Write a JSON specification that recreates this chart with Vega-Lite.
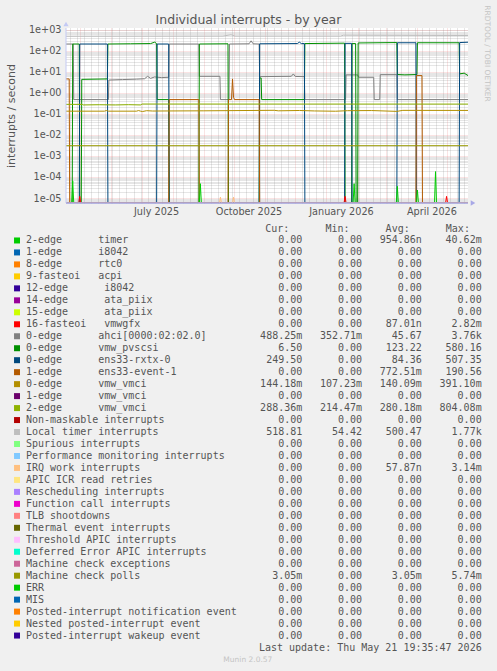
{
 "$schema": "https://vega.github.io/schema/vega-lite/v6.json",
 "width": 402,
 "height": 175,
 "autosize": {"type": "none"},
 "padding": {"left": 66, "top": 28, "right": 29, "bottom": 468},
 "background": "#f0f0f0",
 "title": {"text": "Individual interrupts - by year", "font": "DejaVu Sans", "fontSize": 12.5, "fontWeight": "normal", "color": "#555555", "anchor": "middle", "frame": "group", "dx": -18.5, "offset": 0, "dy": 22},
 "config": {
  "view": {"fill": "#ffffff", "stroke": null},
  "font": "DejaVu Sans",
  "axis": {"labelFont": "DejaVu Sans", "labelFontSize": 9.7, "labelColor": "#555555", "titleFont": "DejaVu Sans", "titleFontWeight": "normal", "titleColor": "#555555"}
 },
 "datasets": {
  "series": [
   {"s":"ahci","t":"2025-04-16T19:35","v":205},{"s":"ahci","t":"2025-04-24T00:00","v":205},{"s":"ahci","t":"2025-04-24T12:00","v":0.47},{"s":"ahci","t":"2025-05-29T00:00","v":0.47},{"s":"ahci","t":"2025-05-29T12:00","v":4.0},{"s":"ahci","t":"2025-06-12T00:00","v":4.2},{"s":"ahci","t":"2025-06-26T00:00","v":4.4},{"s":"ahci","t":"2025-07-04T00:00","v":4.6},{"s":"ahci","t":"2025-07-07T00:00","v":6.0},{"s":"ahci","t":"2025-07-10T00:00","v":4.8},{"s":"ahci","t":"2025-07-14T00:00","v":5.6},{"s":"ahci","t":"2025-07-21T00:00","v":5.2},{"s":"ahci","t":"2025-07-28T00:00","v":5.4},{"s":"ahci","t":"2025-07-28T12:00","v":205},{"s":"ahci","t":"2025-08-27T00:00","v":205},{"s":"ahci","t":"2025-08-27T12:00","v":6.0},{"s":"ahci","t":"2025-09-17T00:00","v":6.0},{"s":"ahci","t":"2025-09-17T12:00","v":0.47},{"s":"ahci","t":"2025-09-26T00:00","v":0.47},{"s":"ahci","t":"2025-09-26T12:00","v":205},{"s":"ahci","t":"2025-10-16T00:00","v":210},{"s":"ahci","t":"2025-10-18T00:00","v":290},{"s":"ahci","t":"2025-10-20T00:00","v":210},{"s":"ahci","t":"2025-10-26T00:00","v":205},{"s":"ahci","t":"2025-10-26T12:00","v":5.8},{"s":"ahci","t":"2025-11-27T00:00","v":6.0},{"s":"ahci","t":"2025-11-29T00:00","v":7.8},{"s":"ahci","t":"2025-12-01T00:00","v":5.9},{"s":"ahci","t":"2025-12-10T00:00","v":5.8},{"s":"ahci","t":"2025-12-10T12:00","v":0.47},{"s":"ahci","t":"2026-01-20T00:00","v":0.47},{"s":"ahci","t":"2026-01-20T12:00","v":7.0},{"s":"ahci","t":"2026-02-01T00:00","v":7.0},{"s":"ahci","t":"2026-02-02T00:00","v":5.4},{"s":"ahci","t":"2026-02-17T00:00","v":5.4},{"s":"ahci","t":"2026-02-17T12:00","v":0.47},{"s":"ahci","t":"2026-02-23T00:00","v":0.47},{"s":"ahci","t":"2026-02-23T12:00","v":7.2},{"s":"ahci","t":"2026-03-12T00:00","v":7.2},{"s":"ahci","t":"2026-03-12T12:00","v":0.47},{"s":"ahci","t":"2026-05-21T19:35","v":0.47},
   {"s":"pvscsi","t":"2025-04-16T19:35","v":0},{"s":"pvscsi","t":"2025-04-23T00:00","v":0},{"s":"pvscsi","t":"2025-04-23T12:00","v":205},{"s":"pvscsi","t":"2025-04-30T00:00","v":205},{"s":"pvscsi","t":"2025-04-30T12:00","v":0},{"s":"pvscsi","t":"2025-05-02T00:00","v":0},{"s":"pvscsi","t":"2025-05-02T12:00","v":4.3},{"s":"pvscsi","t":"2025-05-28T00:00","v":4.5},{"s":"pvscsi","t":"2025-05-28T12:00","v":205},{"s":"pvscsi","t":"2025-06-20T00:00","v":210},{"s":"pvscsi","t":"2025-07-10T00:00","v":215},{"s":"pvscsi","t":"2025-07-14T00:00","v":250},{"s":"pvscsi","t":"2025-07-16T00:00","v":215},{"s":"pvscsi","t":"2025-07-16T12:00","v":0.47},{"s":"pvscsi","t":"2025-07-28T00:00","v":0.47},{"s":"pvscsi","t":"2025-07-28T12:00","v":0},{"s":"pvscsi","t":"2025-08-27T00:00","v":0},{"s":"pvscsi","t":"2025-08-27T12:00","v":205},{"s":"pvscsi","t":"2025-09-25T00:00","v":210},{"s":"pvscsi","t":"2025-09-25T12:00","v":0},{"s":"pvscsi","t":"2025-10-26T00:00","v":0},{"s":"pvscsi","t":"2025-10-26T12:00","v":5.0},{"s":"pvscsi","t":"2025-10-28T00:00","v":5.0},{"s":"pvscsi","t":"2025-10-28T12:00","v":0.47},{"s":"pvscsi","t":"2025-12-10T00:00","v":0.47},{"s":"pvscsi","t":"2025-12-10T12:00","v":215},{"s":"pvscsi","t":"2026-01-19T00:00","v":225},{"s":"pvscsi","t":"2026-01-19T12:00","v":0},{"s":"pvscsi","t":"2026-01-26T00:00","v":0},{"s":"pvscsi","t":"2026-01-26T12:00","v":215},{"s":"pvscsi","t":"2026-01-30T00:00","v":215},{"s":"pvscsi","t":"2026-01-30T12:00","v":0},{"s":"pvscsi","t":"2026-02-01T00:00","v":0},{"s":"pvscsi","t":"2026-02-01T12:00","v":230},{"s":"pvscsi","t":"2026-03-12T00:00","v":240},{"s":"pvscsi","t":"2026-03-12T12:00","v":7.3},{"s":"pvscsi","t":"2026-03-20T00:00","v":7.0},{"s":"pvscsi","t":"2026-04-01T00:00","v":7.3},{"s":"pvscsi","t":"2026-04-01T12:00","v":235},{"s":"pvscsi","t":"2026-05-13T00:00","v":235},{"s":"pvscsi","t":"2026-05-13T12:00","v":7.8},{"s":"pvscsi","t":"2026-05-18T00:00","v":8.5},{"s":"pvscsi","t":"2026-05-21T19:35","v":6.5},
   {"s":"rxtx","t":"2025-04-16T19:35","v":0},{"s":"rxtx","t":"2025-04-30T00:00","v":0},{"s":"rxtx","t":"2025-04-30T12:00","v":205},{"s":"rxtx","t":"2025-05-28T00:00","v":205},{"s":"rxtx","t":"2025-05-28T12:00","v":0},{"s":"rxtx","t":"2025-07-16T00:00","v":0},{"s":"rxtx","t":"2025-07-16T12:00","v":205},{"s":"rxtx","t":"2025-07-28T00:00","v":205},{"s":"rxtx","t":"2025-07-28T12:00","v":0},{"s":"rxtx","t":"2025-10-26T00:00","v":0},{"s":"rxtx","t":"2025-10-26T12:00","v":210},{"s":"rxtx","t":"2025-12-03T00:00","v":215},{"s":"rxtx","t":"2025-12-05T00:00","v":250},{"s":"rxtx","t":"2025-12-07T00:00","v":215},{"s":"rxtx","t":"2025-12-10T00:00","v":215},{"s":"rxtx","t":"2025-12-10T12:00","v":0},{"s":"rxtx","t":"2026-01-19T00:00","v":0},{"s":"rxtx","t":"2026-01-19T12:00","v":220},{"s":"rxtx","t":"2026-01-26T00:00","v":220},{"s":"rxtx","t":"2026-01-26T12:00","v":0},{"s":"rxtx","t":"2026-03-12T00:00","v":0},{"s":"rxtx","t":"2026-03-12T12:00","v":235},{"s":"rxtx","t":"2026-03-31T00:00","v":235},{"s":"rxtx","t":"2026-03-31T12:00","v":0},{"s":"rxtx","t":"2026-05-13T00:00","v":0},{"s":"rxtx","t":"2026-05-13T12:00","v":240},{"s":"rxtx","t":"2026-05-21T19:35","v":249.5},
   {"s":"event1","t":"2025-04-16T19:35","v":4.5},{"s":"event1","t":"2025-04-20T00:00","v":4.5},{"s":"event1","t":"2025-04-20T12:00","v":0},{"s":"event1","t":"2025-07-28T00:00","v":0},{"s":"event1","t":"2025-07-28T12:00","v":0.47},{"s":"event1","t":"2025-08-27T00:00","v":0.47},{"s":"event1","t":"2025-08-27T12:00","v":0},{"s":"event1","t":"2025-09-25T00:00","v":0},{"s":"event1","t":"2025-09-25T12:00","v":0.47},{"s":"event1","t":"2025-09-28T12:00","v":0.47},{"s":"event1","t":"2025-09-29T12:00","v":4.5},{"s":"event1","t":"2025-09-30T12:00","v":0.6},{"s":"event1","t":"2025-10-01T12:00","v":0.47},{"s":"event1","t":"2025-10-26T00:00","v":0.47},{"s":"event1","t":"2025-10-26T12:00","v":0},{"s":"event1","t":"2026-03-31T00:00","v":0},{"s":"event1","t":"2026-03-31T12:00","v":6.5},{"s":"event1","t":"2026-04-06T00:00","v":6.5},{"s":"event1","t":"2026-04-06T12:00","v":0},{"s":"event1","t":"2026-05-21T19:35","v":0},
   {"s":"vmci0","t":"2025-04-16T19:35","v":0.133},{"s":"vmci0","t":"2025-05-25T00:00","v":0.133},{"s":"vmci0","t":"2025-05-27T00:00","v":0.142},{"s":"vmci0","t":"2025-05-29T00:00","v":0.133},{"s":"vmci0","t":"2025-06-26T00:00","v":0.133},{"s":"vmci0","t":"2025-06-28T00:00","v":0.142},{"s":"vmci0","t":"2025-06-30T00:00","v":0.133},{"s":"vmci0","t":"2025-07-02T00:00","v":0.128},{"s":"vmci0","t":"2025-07-06T00:00","v":0.14},{"s":"vmci0","t":"2025-07-12T00:00","v":0.135},{"s":"vmci0","t":"2025-09-01T00:00","v":0.138},{"s":"vmci0","t":"2025-11-10T00:00","v":0.146},{"s":"vmci0","t":"2025-11-14T00:00","v":0.138},{"s":"vmci0","t":"2025-12-05T00:00","v":0.143},{"s":"vmci0","t":"2025-12-20T00:00","v":0.136},{"s":"vmci0","t":"2026-01-10T00:00","v":0.132},{"s":"vmci0","t":"2026-01-22T00:00","v":0.14},{"s":"vmci0","t":"2026-02-15T00:00","v":0.142},{"s":"vmci0","t":"2026-03-12T00:00","v":0.13},{"s":"vmci0","t":"2026-03-18T00:00","v":0.145},{"s":"vmci0","t":"2026-05-21T19:35","v":0.144},
   {"s":"vmci2","t":"2025-04-16T19:35","v":0.28},{"s":"vmci2","t":"2025-05-03T00:00","v":0.28},{"s":"vmci2","t":"2025-05-04T00:00","v":0.262},{"s":"vmci2","t":"2025-05-20T00:00","v":0.268},{"s":"vmci2","t":"2025-06-05T00:00","v":0.262},{"s":"vmci2","t":"2025-06-18T00:00","v":0.27},{"s":"vmci2","t":"2025-06-30T00:00","v":0.262},{"s":"vmci2","t":"2025-07-01T12:00","v":0.29},{"s":"vmci2","t":"2026-05-21T19:35","v":0.288},
   {"s":"loc","t":"2025-04-16T19:35","v":480},{"s":"loc","t":"2025-09-20T00:00","v":490},{"s":"loc","t":"2025-09-28T00:00","v":560},{"s":"loc","t":"2025-10-02T00:00","v":490},{"s":"loc","t":"2026-01-15T00:00","v":490},{"s":"loc","t":"2026-01-18T00:00","v":535},{"s":"loc","t":"2026-05-21T19:35","v":519},
   {"s":"mcp","t":"2025-04-16T19:35","v":0.00305},{"s":"mcp","t":"2026-05-21T19:35","v":0.00305},
   {"s":"timer","t":"2025-04-16T19:35","v":0},{"s":"timer","t":"2025-04-22T12:00","v":0},{"s":"timer","t":"2025-04-23T12:00","v":0.000065},{"s":"timer","t":"2025-04-24T12:00","v":0},{"s":"timer","t":"2025-08-27T12:00","v":0},{"s":"timer","t":"2025-08-28T12:00","v":0.000048},{"s":"timer","t":"2025-08-29T12:00","v":0},{"s":"timer","t":"2026-01-27T12:00","v":0},{"s":"timer","t":"2026-01-28T12:00","v":0.000048},{"s":"timer","t":"2026-01-29T12:00","v":0},{"s":"timer","t":"2026-03-11T12:00","v":0},{"s":"timer","t":"2026-03-12T12:00","v":0.000036},{"s":"timer","t":"2026-03-13T12:00","v":0},{"s":"timer","t":"2026-03-31T12:00","v":0},{"s":"timer","t":"2026-04-01T12:00","v":0.000024},{"s":"timer","t":"2026-04-02T12:00","v":0},{"s":"timer","t":"2026-04-18T12:00","v":0},{"s":"timer","t":"2026-04-19T12:00","v":0.00018},{"s":"timer","t":"2026-04-20T12:00","v":0},{"s":"timer","t":"2026-05-21T19:35","v":0},
   {"s":"vmwgfx","t":"2025-04-16T19:35","v":0},{"s":"vmwgfx","t":"2025-04-29T12:00","v":0},{"s":"vmwgfx","t":"2025-04-30T12:00","v":0.000012},{"s":"vmwgfx","t":"2025-05-01T12:00","v":0},{"s":"vmwgfx","t":"2026-01-18T12:00","v":0},{"s":"vmwgfx","t":"2026-01-19T12:00","v":0.000012},{"s":"vmwgfx","t":"2026-01-20T12:00","v":0},{"s":"vmwgfx","t":"2026-04-29T12:00","v":0},{"s":"vmwgfx","t":"2026-04-30T12:00","v":0.000012},{"s":"vmwgfx","t":"2026-05-01T12:00","v":0},{"s":"vmwgfx","t":"2026-05-21T19:35","v":0},
   {"s":"iwi","t":"2025-04-16T19:35","v":0},{"s":"iwi","t":"2025-09-16T12:00","v":0},{"s":"iwi","t":"2025-09-17T12:00","v":0.000011},{"s":"iwi","t":"2025-09-18T12:00","v":0},{"s":"iwi","t":"2025-09-29T12:00","v":0},{"s":"iwi","t":"2025-09-30T12:00","v":0.000011},{"s":"iwi","t":"2025-10-01T12:00","v":0},{"s":"iwi","t":"2026-05-21T19:35","v":0}
  ],
  "legend": [
   {"s":"timer","name":"2-edge\u00a0\u00a0\u00a0\u00a0\u00a0\u00a0timer","cur":"0.00\u00a0","min":"0.00\u00a0","avg":"954.86n","max":"40.62m"},
   {"s":"i8042a","name":"1-edge\u00a0\u00a0\u00a0\u00a0\u00a0\u00a0i8042","cur":"0.00\u00a0","min":"0.00\u00a0","avg":"0.00\u00a0","max":"0.00\u00a0"},
   {"s":"rtc0","name":"8-edge\u00a0\u00a0\u00a0\u00a0\u00a0\u00a0rtc0","cur":"0.00\u00a0","min":"0.00\u00a0","avg":"0.00\u00a0","max":"0.00\u00a0"},
   {"s":"acpi","name":"9-fasteoi\u00a0\u00a0\u00a0acpi","cur":"0.00\u00a0","min":"0.00\u00a0","avg":"0.00\u00a0","max":"0.00\u00a0"},
   {"s":"i8042b","name":"12-edge\u00a0\u00a0\u00a0\u00a0\u00a0\u00a0i8042","cur":"0.00\u00a0","min":"0.00\u00a0","avg":"0.00\u00a0","max":"0.00\u00a0"},
   {"s":"ata14","name":"14-edge\u00a0\u00a0\u00a0\u00a0\u00a0\u00a0ata_piix","cur":"0.00\u00a0","min":"0.00\u00a0","avg":"0.00\u00a0","max":"0.00\u00a0"},
   {"s":"ata15","name":"15-edge\u00a0\u00a0\u00a0\u00a0\u00a0\u00a0ata_piix","cur":"0.00\u00a0","min":"0.00\u00a0","avg":"0.00\u00a0","max":"0.00\u00a0"},
   {"s":"vmwgfx","name":"16-fasteoi\u00a0\u00a0\u00a0vmwgfx","cur":"0.00\u00a0","min":"0.00\u00a0","avg":"87.01n","max":"2.82m"},
   {"s":"ahci","name":"0-edge\u00a0\u00a0\u00a0\u00a0\u00a0\u00a0ahci[0000:02:02.0]","cur":"488.25m","min":"352.71m","avg":"45.67\u00a0","max":"3.76k"},
   {"s":"pvscsi","name":"0-edge\u00a0\u00a0\u00a0\u00a0\u00a0\u00a0vmw_pvscsi","cur":"6.50\u00a0","min":"0.00\u00a0","avg":"123.22\u00a0","max":"580.16\u00a0"},
   {"s":"rxtx","name":"0-edge\u00a0\u00a0\u00a0\u00a0\u00a0\u00a0ens33-rxtx-0","cur":"249.50\u00a0","min":"0.00\u00a0","avg":"84.36\u00a0","max":"507.35\u00a0"},
   {"s":"event1","name":"1-edge\u00a0\u00a0\u00a0\u00a0\u00a0\u00a0ens33-event-1","cur":"0.00\u00a0","min":"0.00\u00a0","avg":"772.51m","max":"190.56\u00a0"},
   {"s":"vmci0","name":"0-edge\u00a0\u00a0\u00a0\u00a0\u00a0\u00a0vmw_vmci","cur":"144.18m","min":"107.23m","avg":"140.09m","max":"391.10m"},
   {"s":"vmci1","name":"1-edge\u00a0\u00a0\u00a0\u00a0\u00a0\u00a0vmw_vmci","cur":"0.00\u00a0","min":"0.00\u00a0","avg":"0.00\u00a0","max":"0.00\u00a0"},
   {"s":"vmci2","name":"2-edge\u00a0\u00a0\u00a0\u00a0\u00a0\u00a0vmw_vmci","cur":"288.36m","min":"214.47m","avg":"280.18m","max":"804.08m"},
   {"s":"nmi","name":"Non-maskable interrupts","cur":"0.00\u00a0","min":"0.00\u00a0","avg":"0.00\u00a0","max":"0.00\u00a0"},
   {"s":"loc","name":"Local timer interrupts","cur":"518.81\u00a0","min":"54.42\u00a0","avg":"500.47\u00a0","max":"1.77k"},
   {"s":"spu","name":"Spurious interrupts","cur":"0.00\u00a0","min":"0.00\u00a0","avg":"0.00\u00a0","max":"0.00\u00a0"},
   {"s":"pmi","name":"Performance monitoring interrupts","cur":"0.00\u00a0","min":"0.00\u00a0","avg":"0.00\u00a0","max":"0.00\u00a0"},
   {"s":"iwi","name":"IRQ work interrupts","cur":"0.00\u00a0","min":"0.00\u00a0","avg":"57.87n","max":"3.14m"},
   {"s":"rtr","name":"APIC ICR read retries","cur":"0.00\u00a0","min":"0.00\u00a0","avg":"0.00\u00a0","max":"0.00\u00a0"},
   {"s":"res","name":"Rescheduling interrupts","cur":"0.00\u00a0","min":"0.00\u00a0","avg":"0.00\u00a0","max":"0.00\u00a0"},
   {"s":"cal","name":"Function call interrupts","cur":"0.00\u00a0","min":"0.00\u00a0","avg":"0.00\u00a0","max":"0.00\u00a0"},
   {"s":"tlb","name":"TLB shootdowns","cur":"0.00\u00a0","min":"0.00\u00a0","avg":"0.00\u00a0","max":"0.00\u00a0"},
   {"s":"trm","name":"Thermal event interrupts","cur":"0.00\u00a0","min":"0.00\u00a0","avg":"0.00\u00a0","max":"0.00\u00a0"},
   {"s":"thr","name":"Threshold APIC interrupts","cur":"0.00\u00a0","min":"0.00\u00a0","avg":"0.00\u00a0","max":"0.00\u00a0"},
   {"s":"dfr","name":"Deferred Error APIC interrupts","cur":"0.00\u00a0","min":"0.00\u00a0","avg":"0.00\u00a0","max":"0.00\u00a0"},
   {"s":"mce","name":"Machine check exceptions","cur":"0.00\u00a0","min":"0.00\u00a0","avg":"0.00\u00a0","max":"0.00\u00a0"},
   {"s":"mcp","name":"Machine check polls","cur":"3.05m","min":"0.00\u00a0","avg":"3.05m","max":"5.74m"},
   {"s":"err","name":"ERR","cur":"0.00\u00a0","min":"0.00\u00a0","avg":"0.00\u00a0","max":"0.00\u00a0"},
   {"s":"mis","name":"MIS","cur":"0.00\u00a0","min":"0.00\u00a0","avg":"0.00\u00a0","max":"0.00\u00a0"},
   {"s":"pin","name":"Posted-interrupt notification event","cur":"0.00\u00a0","min":"0.00\u00a0","avg":"0.00\u00a0","max":"0.00\u00a0"},
   {"s":"npi","name":"Nested posted-interrupt event","cur":"0.00\u00a0","min":"0.00\u00a0","avg":"0.00\u00a0","max":"0.00\u00a0"},
   {"s":"piw","name":"Posted-interrupt wakeup event","cur":"0.00\u00a0","min":"0.00\u00a0","avg":"0.00\u00a0","max":"0.00\u00a0"}
  ]
 },
 "layer": [
  {
   "data": {"name": "series"},
   "layer": [
    {
     "mark": {"type": "line", "strokeWidth": 1, "clip": true, "invalid": "show"},
     "encoding": {
      "x": {"field": "t", "type": "temporal",
       "scale": {"domain": [{"year":2025,"month":4,"date":16,"hours":19,"minutes":35},{"year":2026,"month":5,"date":21,"hours":19,"minutes":35}]},
       "axis": {
        "orient": "bottom", "title": null, "ticks": false, "tickSize": 0, "domain": false, "grid": false, "labelAngle": 0, "labelOverlap": false, "labelFlush": false, "labelPadding": 3, "labelOffset": 14.5,
        "format": "%B %Y",
        "values": [{"year":2025,"month":7,"date":1},{"year":2025,"month":10,"date":1},{"year":2026,"month":1,"date":1},{"year":2026,"month":4,"date":1}]
       }
      },
      "y": {"field": "v", "type": "quantitative",
       "scale": {"type": "log", "domain": [0.0000058, 1180], "clamp": true},
       "axis": {
        "orient": "left", "ticks": false, "tickSize": 0, "domain": false, "labelPadding": 5, "labelOverlap": false, "labelFlush": false,
        "title": "interrupts / second", "titleFontSize": 11, "titleAngle": -90, "titleX": -50, "titleY": 87.5, "titleAlign": "center", "titleBaseline": "bottom",
        "labelExpr": "abs(log(datum.value)/LN10 - round(log(datum.value)/LN10)) < 0.001 ? '1e' + (round(log(datum.value)/LN10) < 0 ? '-' : '+') + (abs(round(log(datum.value)/LN10)) < 10 ? '0' : '') + abs(round(log(datum.value)/LN10)) : ''",
        "grid": true, "gridDash": [1, 1],
        "gridColor": {"condition": {"test": "abs(log(datum.value)/LN10 - round(log(datum.value)/LN10)) < 0.001", "value": "#e06060"}, "value": "#8f8f8f"},
        "gridOpacity": {"condition": {"test": "abs(log(datum.value)/LN10 - round(log(datum.value)/LN10)) < 0.001", "value": 0.35}, "value": 0.45},
        "values": [0.000006,0.000007,0.000008,0.000009,
         0.00001,0.00002,0.00003,0.00004,0.00005,0.00006,0.00007,0.00008,0.00009,
         0.0001,0.0002,0.0003,0.0004,0.0005,0.0006,0.0007,0.0008,0.0009,
         0.001,0.002,0.003,0.004,0.005,0.006,0.007,0.008,0.009,
         0.01,0.02,0.03,0.04,0.05,0.06,0.07,0.08,0.09,
         0.1,0.2,0.3,0.4,0.5,0.6,0.7,0.8,0.9,
         1,2,3,4,5,6,7,8,9,
         10,20,30,40,50,60,70,80,90,
         100,200,300,400,500,600,700,800,900,1000]
       }
      },
      "color": {"field": "s", "type": "nominal", "legend": null,
       "scale": {
        "domain": ["timer","i8042a","rtc0","acpi","i8042b","ata14","ata15","vmwgfx","ahci","pvscsi","rxtx","event1","vmci0","vmci1","vmci2","nmi","loc","spu","pmi","iwi","rtr","res","cal","tlb","trm","thr","dfr","mce","mcp","err","mis","pin","npi","piw"],
        "range": ["#00CC00","#0066B3","#FF8000","#FFCC00","#330099","#990099","#CCFF00","#FF0000","#808080","#008F00","#00487D","#B35A00","#B38F00","#6B006B","#8FB300","#B30000","#BEBEBE","#80FF80","#80C9FF","#FFC080","#FFE680","#AA80FF","#EE00CC","#FF8080","#666600","#FFBFFF","#00FFCC","#CC6699","#999900","#00CC00","#0066B3","#FF8000","#FFCC00","#330099"]
       }
      }
     }
    },
    {
     "data": {"values": [{}]},
     "mark": {"type": "rule", "color": "#a8a8e6", "strokeWidth": 1.5},
     "encoding": {"y": {"datum": 0.0000058, "type": "quantitative", "scale": {"type": "log", "domain": [0.0000058, 1180], "clamp": true}, "axis": null}}
    },
    {
     "data": {"values": [{}]},
     "mark": {"type": "rule", "color": "#c4caf4", "strokeWidth": 1},
     "encoding": {"x": {"datum": {"year":2025,"month":4,"date":16,"hours":19,"minutes":35}, "type": "temporal",
      "axis": {
        "orient": "bottom", "title": null, "labels": false, "ticks": false, "domain": false,
        "grid": true, "gridDash": [1, 1],
        "gridColor": {"condition": {"test": "date(datum.value) == 1", "value": "#e06060"}, "value": "#8f8f8f"},
        "gridOpacity": {"condition": {"test": "date(datum.value) == 1", "value": 0.35}, "value": 0.45},
        "values": [
         {"year":2025,"month":4,"date":21},{"year":2025,"month":4,"date":28},{"year":2025,"month":5,"date":1},{"year":2025,"month":5,"date":5},{"year":2025,"month":5,"date":12},{"year":2025,"month":5,"date":19},{"year":2025,"month":5,"date":26},
         {"year":2025,"month":6,"date":1},{"year":2025,"month":6,"date":2},{"year":2025,"month":6,"date":9},{"year":2025,"month":6,"date":16},{"year":2025,"month":6,"date":23},{"year":2025,"month":6,"date":30},
         {"year":2025,"month":7,"date":1},{"year":2025,"month":7,"date":7},{"year":2025,"month":7,"date":14},{"year":2025,"month":7,"date":21},{"year":2025,"month":7,"date":28},
         {"year":2025,"month":8,"date":1},{"year":2025,"month":8,"date":4},{"year":2025,"month":8,"date":11},{"year":2025,"month":8,"date":18},{"year":2025,"month":8,"date":25},
         {"year":2025,"month":9,"date":1},{"year":2025,"month":9,"date":8},{"year":2025,"month":9,"date":15},{"year":2025,"month":9,"date":22},{"year":2025,"month":9,"date":29},
         {"year":2025,"month":10,"date":1},{"year":2025,"month":10,"date":6},{"year":2025,"month":10,"date":13},{"year":2025,"month":10,"date":20},{"year":2025,"month":10,"date":27},
         {"year":2025,"month":11,"date":1},{"year":2025,"month":11,"date":3},{"year":2025,"month":11,"date":10},{"year":2025,"month":11,"date":17},{"year":2025,"month":11,"date":24},
         {"year":2025,"month":12,"date":1},{"year":2025,"month":12,"date":8},{"year":2025,"month":12,"date":15},{"year":2025,"month":12,"date":22},{"year":2025,"month":12,"date":29},
         {"year":2026,"month":1,"date":1},{"year":2026,"month":1,"date":5},{"year":2026,"month":1,"date":12},{"year":2026,"month":1,"date":19},{"year":2026,"month":1,"date":26},
         {"year":2026,"month":2,"date":1},{"year":2026,"month":2,"date":2},{"year":2026,"month":2,"date":9},{"year":2026,"month":2,"date":16},{"year":2026,"month":2,"date":23},
         {"year":2026,"month":3,"date":1},{"year":2026,"month":3,"date":2},{"year":2026,"month":3,"date":9},{"year":2026,"month":3,"date":16},{"year":2026,"month":3,"date":23},{"year":2026,"month":3,"date":30},
         {"year":2026,"month":4,"date":1},{"year":2026,"month":4,"date":6},{"year":2026,"month":4,"date":13},{"year":2026,"month":4,"date":20},{"year":2026,"month":4,"date":27},
         {"year":2026,"month":5,"date":1},{"year":2026,"month":5,"date":4},{"year":2026,"month":5,"date":11},{"year":2026,"month":5,"date":18}
        ]
      }}}
    },
    {
     "data": {"values": [{}]},
     "mark": {"type": "point", "shape": "triangle-up", "filled": true, "size": 28, "color": "#c4caf4", "opacity": 1, "yOffset": -4},
     "encoding": {
      "x": {"datum": {"year":2025,"month":4,"date":16,"hours":19,"minutes":35}, "type": "temporal", "axis": null},
      "y": {"datum": 1180, "type": "quantitative", "scale": {"type": "log", "domain": [0.0000058, 1180], "clamp": true},
       "axis": {"orient": "right", "title": "RRDTOOL / TOBI OETIKER", "labels": false, "ticks": false, "domain": false, "grid": false,
        "titleAngle": 90, "titleFont": "DejaVu Sans", "titleFontSize": 7.5, "titleFontWeight": "normal", "titleColor": "#c4c4c4",
        "titleX": 18, "titleY": 25, "titleAlign": "center", "titleBaseline": "middle"}}
     }
    },
    {
     "data": {"values": [{}]},
     "mark": {"type": "point", "shape": "triangle-right", "filled": true, "size": 28, "color": "#a8a8e6", "opacity": 1, "xOffset": 5},
     "encoding": {
      "x": {"datum": {"year":2026,"month":5,"date":21,"hours":19,"minutes":35}, "type": "temporal", "axis": null},
      "y": {"datum": 0.0000058, "type": "quantitative", "scale": {"type": "log", "domain": [0.0000058, 1180], "clamp": true}, "axis": null}
     }
    }
   ],
   "resolve": {"axis": {"x": "independent", "y": "independent"}}
  },
  {
   "data": {"name": "legend"},
   "encoding": {
    "y": {"field": "s", "type": "nominal", "axis": null,
     "scale": {"type": "point", "padding": 0, "range": [200.5, 631.5],
      "domain": ["hdr","timer","i8042a","rtc0","acpi","i8042b","ata14","ata15","vmwgfx","ahci","pvscsi","rxtx","event1","vmci0","vmci1","vmci2","nmi","loc","spu","pmi","iwi","rtr","res","cal","tlb","trm","thr","dfr","mce","mcp","err","mis","pin","npi","piw","upd","munin"]}}
   },
   "layer": [
    {
     "mark": {"type": "square", "size": 36, "filled": true, "opacity": 1, "strokeWidth": 0},
     "encoding": {
      "x": {"datum": -1.5, "type": "quantitative", "scale": {"domain": [0, 100], "range": [-40, 558]}, "axis": null},
      "color": {"field": "s", "type": "nominal", "legend": null,
       "scale": {
        "domain": ["timer","i8042a","rtc0","acpi","i8042b","ata14","ata15","vmwgfx","ahci","pvscsi","rxtx","event1","vmci0","vmci1","vmci2","nmi","loc","spu","pmi","iwi","rtr","res","cal","tlb","trm","thr","dfr","mce","mcp","err","mis","pin","npi","piw"],
        "range": ["#00CC00","#0066B3","#FF8000","#FFCC00","#330099","#990099","#CCFF00","#FF0000","#808080","#008F00","#00487D","#B35A00","#B38F00","#6B006B","#8FB300","#B30000","#BEBEBE","#80FF80","#80C9FF","#FFC080","#FFE680","#AA80FF","#EE00CC","#FF8080","#666600","#FFBFFF","#00FFCC","#CC6699","#999900","#00CC00","#0066B3","#FF8000","#FFCC00","#330099"]
       }
      }
     }
    },
    {
     "mark": {"type": "text", "align": "left", "baseline": "middle", "font": "DejaVu Sans Mono", "fontSize": 10, "color": "#555555"},
     "encoding": {"x": {"datum": 0, "type": "quantitative"}, "text": {"field": "name"}}
    },
    {
     "mark": {"type": "text", "align": "right", "baseline": "middle", "font": "DejaVu Sans Mono", "fontSize": 10, "color": "#555555"},
     "encoding": {"x": {"datum": 46.2, "type": "quantitative"}, "text": {"field": "cur"}}
    },
    {
     "mark": {"type": "text", "align": "right", "baseline": "middle", "font": "DejaVu Sans Mono", "fontSize": 10, "color": "#555555"},
     "encoding": {"x": {"datum": 56.2, "type": "quantitative"}, "text": {"field": "min"}}
    },
    {
     "mark": {"type": "text", "align": "right", "baseline": "middle", "font": "DejaVu Sans Mono", "fontSize": 10, "color": "#555555"},
     "encoding": {"x": {"datum": 66.2, "type": "quantitative"}, "text": {"field": "avg"}}
    },
    {
     "mark": {"type": "text", "align": "right", "baseline": "middle", "font": "DejaVu Sans Mono", "fontSize": 10, "color": "#555555"},
     "encoding": {"x": {"datum": 76.2, "type": "quantitative"}, "text": {"field": "max"}}
    },
    {
     "data": {"values": [{"s": "hdr", "txt": "Cur:\u00a0\u00a0\u00a0\u00a0\u00a0\u00a0Min:\u00a0\u00a0\u00a0\u00a0\u00a0\u00a0Avg:\u00a0\u00a0\u00a0\u00a0\u00a0\u00a0Max:"}]},
     "mark": {"type": "text", "align": "left", "baseline": "middle", "font": "DejaVu Sans Mono", "fontSize": 10, "color": "#555555"},
     "encoding": {"x": {"datum": 40, "type": "quantitative"}, "text": {"field": "txt"}}
    },
    {
     "data": {"values": [{"s": "upd", "txt": "Last update: Thu May 21 19:35:47 2026"}]},
     "mark": {"type": "text", "align": "right", "baseline": "middle", "font": "DejaVu Sans Mono", "fontSize": 10, "color": "#555555"},
     "encoding": {"x": {"datum": 76.2, "type": "quantitative"}, "text": {"field": "txt"}}
    },
    {
     "data": {"values": [{"s": "munin", "txt": "Munin 2.0.57"}]},
     "mark": {"type": "text", "align": "center", "baseline": "middle", "font": "DejaVu Sans", "fontSize": 7.5, "color": "#c4c4c4"},
     "encoding": {"x": {"datum": 37.1, "type": "quantitative"}, "text": {"field": "txt"}}
    }
   ]
  }
 ],
 "resolve": {"scale": {"x": "independent", "y": "independent"}}
}
